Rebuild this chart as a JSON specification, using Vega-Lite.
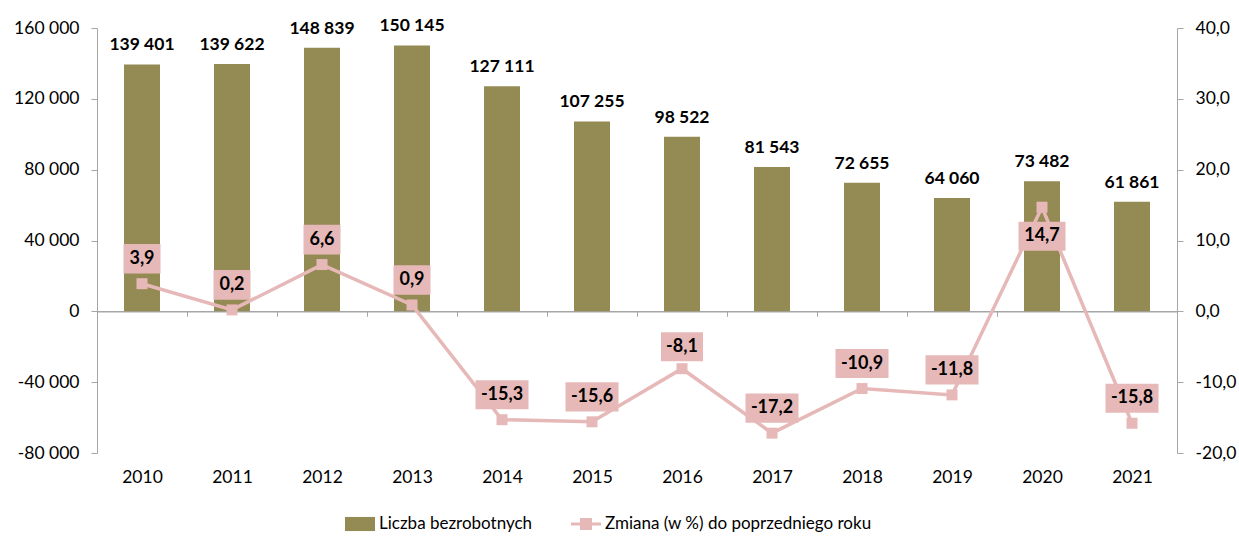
{
  "$schema": "https://vega.github.io/schema/vega-lite/v6.json",
  "width": 1080,
  "height": 425,
  "autosize": "none",
  "padding": {"left": 97, "top": 28, "right": 62, "bottom": 83},
  "background": "white",
  "config": {
    "locale": {"number": {"decimal": ",", "thousands": " ", "grouping": [3], "currency": ["", ""], "minus": "-"}},
    "font": "Lato",
    "view": {"stroke": null},
    "axis": {"grid": false, "labelFont": "Lato", "labelFontSize": 17.5, "labelColor": "#000000", "domainColor": "#A6A6A6", "tickColor": "#A6A6A6", "titleFontSize": 0},
    "legend": {"labelFont": "Lato", "labelFontSize": 17, "labelColor": "#000000", "labelLimit": 500}
  },
  "data": {"values": [
    {"year": "2010", "count": 139401, "pct": 3.9},
    {"year": "2011", "count": 139622, "pct": 0.2},
    {"year": "2012", "count": 148839, "pct": 6.6},
    {"year": "2013", "count": 150145, "pct": 0.9},
    {"year": "2014", "count": 127111, "pct": -15.3},
    {"year": "2015", "count": 107255, "pct": -15.6},
    {"year": "2016", "count": 98522, "pct": -8.1},
    {"year": "2017", "count": 81543, "pct": -17.2},
    {"year": "2018", "count": 72655, "pct": -10.9},
    {"year": "2019", "count": 64060, "pct": -11.8},
    {"year": "2020", "count": 73482, "pct": 14.7},
    {"year": "2021", "count": 61861, "pct": -15.8}
  ]},
  "encoding": {
    "x": {
      "field": "year", "type": "ordinal", "title": null,
      "scale": {"paddingInner": 0, "paddingOuter": 0},
      "axis": {"labelAngle": 0, "offset": -141.7, "tickBand": "extent", "tickSize": 5, "labelPadding": 152, "domainWidth": 1.5}
    }
  },
  "layer": [
    {
      "layer": [
        {
          "mark": {"type": "bar", "width": 36, "color": "#948A54"},
          "encoding": {
            "y": {"field": "count", "type": "quantitative", "title": null,
              "scale": {"domain": [-80000, 160000], "nice": false, "zero": false},
              "axis": {"values": [-80000, -40000, 0, 40000, 80000, 120000, 160000], "format": ",d", "orient": "left", "tickSize": 6, "labelPadding": 12}},
            "color": {"datum": "Liczba bezrobotnych", "type": "nominal",
              "scale": {"domain": ["Liczba bezrobotnych", "Zmiana (w %) do poprzedniego roku"], "range": ["#948A54", "#E6B9B8"]},
              "legend": {"title": null, "orient": "none", "legendX": 248, "legendY": 481, "direction": "horizontal", "symbolSize": 900, "symbolStrokeWidth": 0, "columnPadding": 38, "labelOffset": 4,
                "encode": {"symbols": {"update": {"shape": {"signal": "datum.index == 0 ? 'M-1,-0.47H1V0.47H-1Z' : 'M-1,-0.1H-0.4V-0.4H0.4V-0.1H1V0.1H0.4V0.4H-0.4V0.1H-1Z'"}}}}}}
          }
        },
        {
          "mark": {"type": "text", "dy": -19, "fontSize": 17.5, "fontWeight": "bold", "color": "#000000", "baseline": "middle"},
          "encoding": {
            "y": {"field": "count", "type": "quantitative"},
            "text": {"field": "count", "type": "quantitative", "format": ",d"}
          }
        }
      ]
    },
    {
      "layer": [
        {
          "mark": {"type": "line", "color": "#E6B9B8", "strokeWidth": 3.5},
          "encoding": {
            "y": {"field": "pct", "type": "quantitative", "title": null,
              "scale": {"domain": [-20, 40], "nice": false, "zero": false},
              "axis": {"values": [-20, -10, 0, 10, 20, 30, 40], "format": ".1f", "orient": "right", "tickSize": 6, "labelPadding": 12}},
            "color": {"datum": "Zmiana (w %) do poprzedniego roku", "type": "nominal"}
          }
        },
        {
          "mark": {"type": "point", "shape": "square", "filled": true, "size": 121, "opacity": 1, "color": "#E6B9B8"},
          "encoding": {"y": {"field": "pct", "type": "quantitative"}}
        },
        {
          "transform": [{"filter": "datum.pct >= 0 && datum.pct < 10"}],
          "mark": {"type": "point", "shape": "M-1,-0.8H1V0.8H-1Z", "filled": true, "size": 1369, "opacity": 1, "color": "#E6B9B8", "yOffset": -25},
          "encoding": {"y": {"field": "pct", "type": "quantitative"}}
        },
        {
          "transform": [{"filter": "datum.pct < 0 && datum.pct > -10"}],
          "mark": {"type": "point", "shape": "M-1,-0.69H1V0.69H-1Z", "filled": true, "size": 1764, "opacity": 1, "color": "#E6B9B8", "yOffset": -22},
          "encoding": {"y": {"field": "pct", "type": "quantitative"}}
        },
        {
          "transform": [{"filter": "datum.pct <= -10"}],
          "mark": {"type": "point", "shape": "M-1,-0.55H1V0.55H-1Z", "filled": true, "size": 2809, "opacity": 1, "color": "#E6B9B8", "yOffset": -25},
          "encoding": {"y": {"field": "pct", "type": "quantitative"}}
        },
        {
          "transform": [{"filter": "datum.pct >= 10"}],
          "mark": {"type": "point", "shape": "M-1,-0.62H1V0.62H-1Z", "filled": true, "size": 2209, "opacity": 1, "color": "#E6B9B8", "yOffset": 29},
          "encoding": {"y": {"field": "pct", "type": "quantitative"}}
        },
        {
          "transform": [{"filter": "datum.pct < 10 && !(datum.pct < 0 && datum.pct > -10)"}],
          "mark": {"type": "text", "yOffset": -25, "fontSize": 18, "fontWeight": "bold", "color": "#000000", "baseline": "middle"},
          "encoding": {
            "y": {"field": "pct", "type": "quantitative"},
            "text": {"field": "pct", "type": "quantitative", "format": ".1f"}
          }
        },
        {
          "transform": [{"filter": "datum.pct < 0 && datum.pct > -10"}],
          "mark": {"type": "text", "yOffset": -22, "fontSize": 18, "fontWeight": "bold", "color": "#000000", "baseline": "middle"},
          "encoding": {
            "y": {"field": "pct", "type": "quantitative"},
            "text": {"field": "pct", "type": "quantitative", "format": ".1f"}
          }
        },
        {
          "transform": [{"filter": "datum.pct >= 10"}],
          "mark": {"type": "text", "yOffset": 29, "fontSize": 18, "fontWeight": "bold", "color": "#000000", "baseline": "middle"},
          "encoding": {
            "y": {"field": "pct", "type": "quantitative"},
            "text": {"field": "pct", "type": "quantitative", "format": ".1f"}
          }
        }
      ]
    }
  ],
  "resolve": {"scale": {"y": "independent"}, "axis": {"y": "independent"}}
}
